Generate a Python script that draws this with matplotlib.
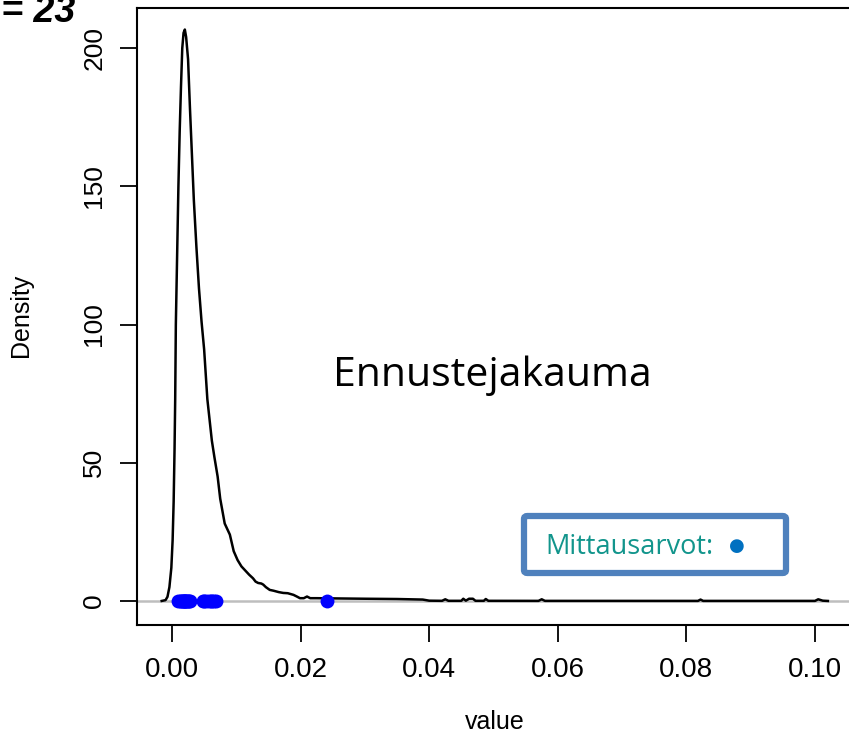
import matplotlib
matplotlib.use("Agg")
import matplotlib.pyplot as plt
from matplotlib.patches import FancyBboxPatch

# ---- data ----
curve_x = [-0.0016, -0.0010, -0.0007, -0.0004, -0.0001, 0.0001, 0.00026, 0.0004, 0.0005, 0.0006,
           0.0008, 0.0010, 0.0012, 0.0014, 0.0016, 0.0018, 0.0020, 0.0022, 0.0025, 0.0028,
           0.0032, 0.0034, 0.0038, 0.0042, 0.0046, 0.0050, 0.0055, 0.0062, 0.0066, 0.0071,
           0.0075, 0.0082, 0.0086, 0.0090, 0.0096, 0.0102, 0.0108, 0.0114, 0.0120, 0.0126,
           0.0130, 0.0134, 0.0139, 0.0142, 0.0146, 0.0152, 0.0158, 0.0166, 0.0173, 0.0180,
           0.0189, 0.0195, 0.0199, 0.0205, 0.0210, 0.0215, 0.0225, 0.0260, 0.0300, 0.0350,
           0.0390, 0.0400, 0.0420, 0.0425, 0.0430, 0.0450, 0.0453, 0.0457, 0.0462, 0.0468,
           0.0472, 0.0485, 0.0488, 0.0492, 0.0570, 0.0575, 0.0580, 0.0818, 0.0822, 0.0826,
           0.1000, 0.1005, 0.1012, 0.1020]
curve_y = [0.0, 0.3, 1.5, 5, 12, 22, 36, 55, 73, 100,
           125, 150, 170, 186, 200, 205.5, 206.7, 204, 196, 178,
           156, 145, 128, 113, 101, 91, 73, 58, 52, 45,
           37, 28, 26, 24, 18, 14.8, 12.5, 11, 9.5, 8.2,
           7, 6.5, 6.3, 5.9, 5, 4, 3.7, 3.2, 2.9, 2.8,
           2.2, 1.5, 1.0, 1.0, 1.6, 1.0, 1.0, 0.9, 0.8, 0.7,
           0.5, 0.1, 0.05, 0.6, 0.05, 0.05, 0.8, 0.1, 0.8, 0.8,
           0.05, 0.05, 0.7, 0.05, 0.03, 0.6, 0.03, 0.02, 0.5, 0.02,
           0.02, 0.6, 0.1, 0.0]

observed = [0.0010, 0.0012, 0.0014, 0.0015, 0.0017, 0.0018, 0.0019, 0.0020, 0.0021, 0.0022,
            0.0024, 0.0025, 0.0027, 0.0028,
            0.0048, 0.0050, 0.0053, 0.0058, 0.0060, 0.0063, 0.0066, 0.0069,
            0.0241]

x_ticks = [0.00, 0.02, 0.04, 0.06, 0.08, 0.10]
x_tick_labels = ["0.00", "0.02", "0.04", "0.06", "0.08", "0.10"]
y_ticks = [0, 50, 100, 150, 200]
y_tick_labels = ["0", "50", "100", "150", "200"]

title_text = "n = 23"
annot_text = "Ennustejakauma"
legend_text = "Mittausarvot:"

# ---- figure ----
W, H = 849, 752
fig = plt.figure(figsize=(W / 100, H / 100), dpi=100)

def fx(px):
    return px / W

def fy(py):
    return 1 - py / H

left, right, top, bottom = 137, 870, 8, 625
ax = fig.add_axes([fx(left), fy(bottom), (right - left) / W, (bottom - top) / H])
ax.set_xlim(-0.00544, (right - 172) / 6430)
ax.set_ylim(-8.7, 214.5)

ax.axhline(0, color="#BEBEBE", lw=1.8, zorder=1)
ax.plot(curve_x, curve_y, color="black", lw=1.8, zorder=2)
ax.plot(observed, [0] * len(observed), "o", color="#0000FF", ms=10, mec="none", zorder=3)

for s in ax.spines.values():
    s.set_linewidth(1.5)
    s.set_color("black")

ax.set_xticks(x_ticks)
ax.set_xticklabels(x_tick_labels, fontfamily="Liberation Sans", fontsize=20)
ax.set_yticks(y_ticks)
ax.set_yticklabels(y_tick_labels, fontfamily="Liberation Sans", fontsize=19,
                   rotation=90, va="center")
ax.tick_params(axis="both", length=12, width=1.3, color="black")
ax.tick_params(axis="x", pad=11)
ax.tick_params(axis="y", pad=10)

ax.set_xlabel("value", fontfamily="Liberation Sans", fontsize=18)
ax.set_ylabel("Density", fontfamily="Liberation Sans", fontsize=18)
ax.xaxis.set_label_coords((495 - left) / (right - left), (bottom - 710) / (bottom - top))
ax.yaxis.set_label_coords((33 - left) / (right - left), (bottom - 315) / (bottom - top))

# title (cut off at top-left as in reference)
fig.text(fx(75), fy(22), title_text, fontfamily="Liberation Sans", fontsize=27,
         fontweight="bold", fontstyle="italic", ha="right", va="baseline")

# annotation
fig.text(fx(333), fy(386), annot_text, fontfamily="Open Sans", fontsize=29.5,
         ha="left", va="baseline", color="black")

# legend-like box
box = FancyBboxPatch((fx(524), fy(573)), fx(786) - fx(524), fy(516) - fy(573),
                     boxstyle="round,pad=0,rounding_size=0.004",
                     transform=fig.transFigure, facecolor="white",
                     edgecolor="#4F81BD", lw=4.5, zorder=5)
fig.add_artist(box)
fig.text(fx(545), fy(554), legend_text, fontfamily="Open Sans", fontsize=19.5,
         ha="left", va="baseline", color="#12958C", zorder=6)
fig.text(fx(737), fy(546), "●", fontfamily="DejaVu Sans", fontsize=13,
         ha="center", va="center", color="#0070C0", zorder=6)

fig.savefig("out.png", dpi=100)
